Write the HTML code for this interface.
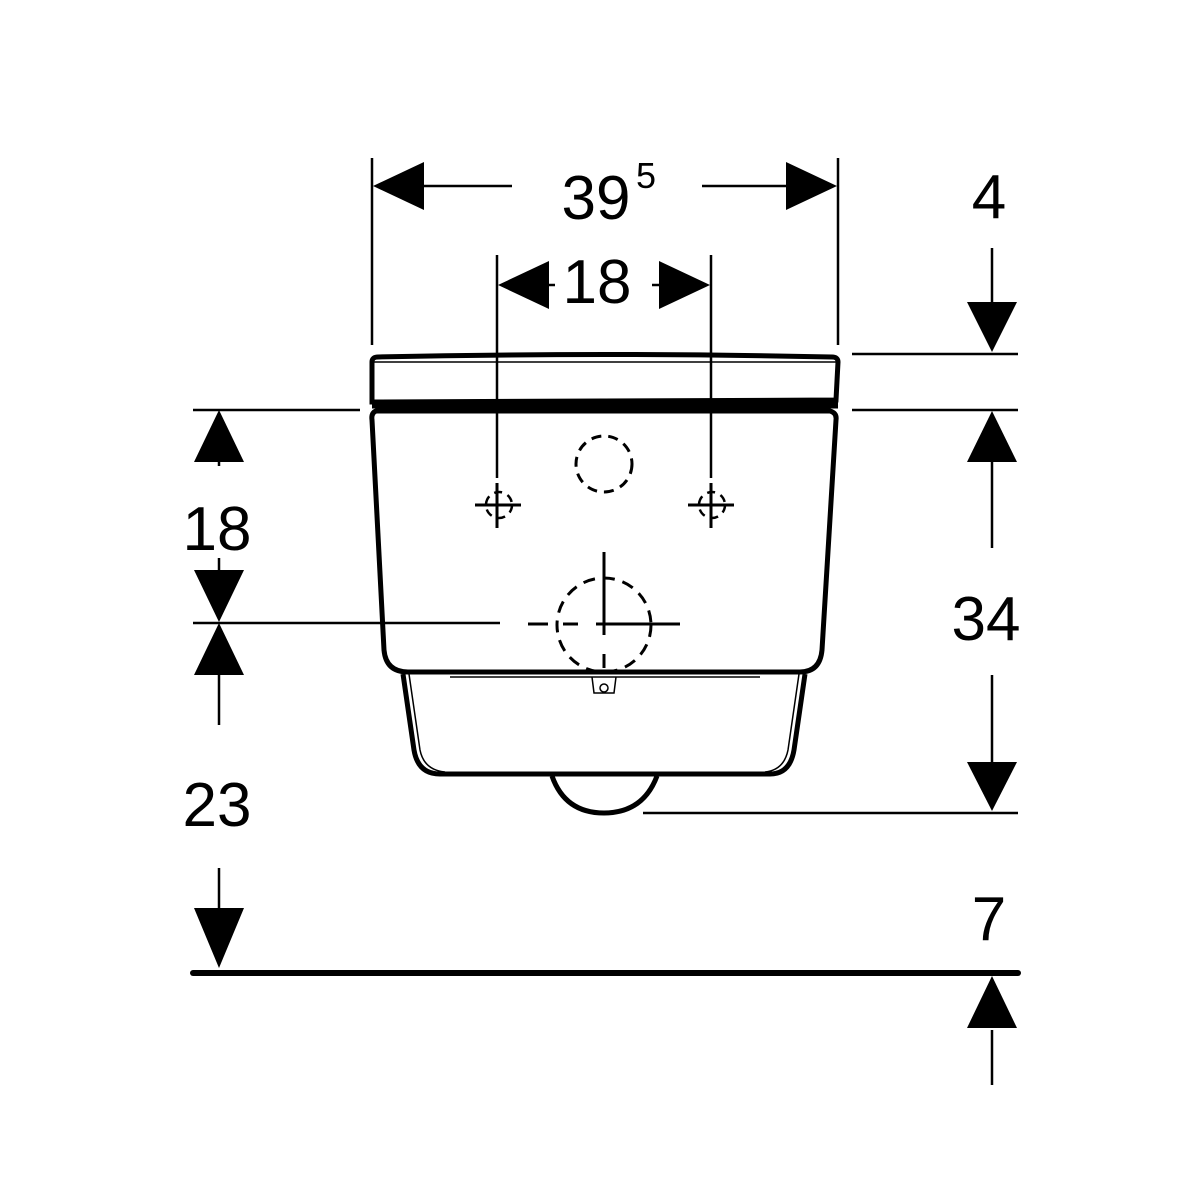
<!DOCTYPE html>
<html><head><style>html,body{margin:0;padding:0;background:#fff}svg{display:block}</style></head>
<body>
<svg width="1200" height="1200" viewBox="0 0 1200 1200" xmlns="http://www.w3.org/2000/svg" font-family="Liberation Sans, sans-serif">
<rect width="1200" height="1200" fill="#fff"/>
<g stroke="#000" fill="none">
<!-- extension lines -->
<line x1="372" y1="158" x2="372" y2="345" stroke-width="2.5"/>
<line x1="838" y1="158" x2="838" y2="345" stroke-width="2.5"/>
<line x1="497" y1="255" x2="497" y2="478" stroke-width="2.5"/>
<line x1="711" y1="255" x2="711" y2="478" stroke-width="2.5"/>
<line x1="852" y1="354" x2="1018" y2="354" stroke-width="2.5"/>
<line x1="852" y1="410" x2="1018" y2="410" stroke-width="2.5"/>
<line x1="193" y1="410" x2="360" y2="410" stroke-width="2.5"/>
<line x1="193" y1="623" x2="500" y2="623" stroke-width="2.5"/>
<line x1="643" y1="813" x2="1018" y2="813" stroke-width="2.5"/>
<line x1="193" y1="973" x2="1018" y2="973" stroke-width="6" stroke-linecap="round"/>
<!-- dim stems -->
<line x1="420" y1="186" x2="512" y2="186" stroke-width="2.5"/>
<line x1="702" y1="186" x2="790" y2="186" stroke-width="2.5"/>
<line x1="548" y1="285" x2="555" y2="285" stroke-width="2.5"/>
<line x1="652" y1="285" x2="660" y2="285" stroke-width="2.5"/>
<line x1="992" y1="248" x2="992" y2="302" stroke-width="2.5"/>
<line x1="992" y1="462" x2="992" y2="548" stroke-width="2.5"/>
<line x1="992" y1="675" x2="992" y2="762" stroke-width="2.5"/>
<line x1="992" y1="1030" x2="992" y2="1085" stroke-width="2.5"/>
<line x1="219" y1="462" x2="219" y2="466" stroke-width="2.5"/>
<line x1="219" y1="558" x2="219" y2="570" stroke-width="2.5"/>
<line x1="219" y1="675" x2="219" y2="725" stroke-width="2.5"/>
<line x1="219" y1="868" x2="219" y2="910" stroke-width="2.5"/>
<!-- seat -->
<path d="M372 362 Q372 357 378 357 Q605 352 832 357 Q838 357 838 362 L836 400 L372 402 Z" stroke-width="5"/>
<line x1="372" y1="405" x2="838" y2="405" stroke-width="7"/>
<line x1="374" y1="362" x2="836" y2="362" stroke-width="1.5"/>
<!-- body -->
<path d="M376 411 Q371 413 372 420 L384 650 Q386 672 408 672 L800 672 Q820 672 822 650 L836 420 Q837 413 830 411 Z" stroke-width="5"/>
<line x1="450" y1="677" x2="760" y2="677" stroke-width="1.5"/>
<path d="M592 677 L594 693 L614 693 L616 677" stroke-width="1.5"/>
<circle cx="604" cy="688" r="4" stroke-width="1.5"/>
<!-- bowl -->
<path d="M403 674 L414 750 Q418 774 440 774 L770 774 Q790 774 794 750 L805 674" stroke-width="5"/>
<path d="M409 674 L420 750 Q424 770 445 772" stroke-width="1.5"/>
<path d="M799 674 L788 750 Q784 770 765 772" stroke-width="1.5"/>
<path d="M552 776 Q565 813 604 813 Q643 813 657 776" stroke-width="5"/>
<!-- dashed circles -->
<circle cx="604" cy="464" r="28" stroke-width="3" stroke-dasharray="10,7"/>
<circle cx="604" cy="625" r="47" stroke-width="3" stroke-dasharray="12,8"/>
<line x1="604" y1="552" x2="604" y2="635" stroke-width="3"/>
<line x1="604" y1="654" x2="604" y2="668" stroke-width="3"/>
<line x1="596" y1="624" x2="680" y2="624" stroke-width="3"/>
<line x1="528" y1="624" x2="548" y2="624" stroke-width="3"/>
<line x1="563" y1="624" x2="578" y2="624" stroke-width="3"/>
<!-- crosshairs -->
<line x1="475" y1="505" x2="521" y2="505" stroke-width="3"/>
<line x1="497" y1="483" x2="497" y2="528" stroke-width="3"/>
<circle cx="499" cy="505" r="13" stroke-width="2.5" stroke-dasharray="8,6"/>
<line x1="688" y1="505" x2="734" y2="505" stroke-width="3"/>
<line x1="711" y1="483" x2="711" y2="528" stroke-width="3"/>
<circle cx="712" cy="505" r="13" stroke-width="2.5" stroke-dasharray="8,6"/>
</g>
<g fill="#000">
<!-- arrows -->
<polygon points="373,186 424,162 424,210"/>
<polygon points="837,186 786,162 786,210"/>
<polygon points="498,285 549,261 549,309"/>
<polygon points="710,285 659,261 659,309"/>
<polygon points="992,352 967,302 1017,302"/>
<polygon points="992,411 967,462 1017,462"/>
<polygon points="992,811 967,762 1017,762"/>
<polygon points="992,976 967,1028 1017,1028"/>
<polygon points="219,410 194,462 244,462"/>
<polygon points="219,622 194,570 244,570"/>
<polygon points="219,623 194,675 244,675"/>
<polygon points="219,968 194,908 244,908"/>
<text x="596" y="219" font-size="62" text-anchor="middle">39</text>
<text x="646" y="188" font-size="36" text-anchor="middle">5</text>
<text x="597" y="303" font-size="62" text-anchor="middle">18</text>
<text x="989" y="218" font-size="62" text-anchor="middle">4</text>
<text x="986" y="640" font-size="62" text-anchor="middle">34</text>
<text x="989" y="940" font-size="62" text-anchor="middle">7</text>
<text x="217" y="550" font-size="62" text-anchor="middle">18</text>
<text x="217" y="826" font-size="62" text-anchor="middle">23</text>
</g>
</svg>
</body></html>
